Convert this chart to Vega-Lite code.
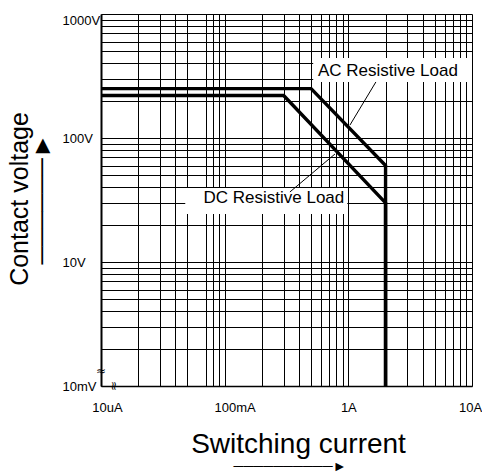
{
  "$schema": "https://vega.github.io/schema/vega-lite/v6.json",
  "width": 371,
  "height": 372,
  "autosize": {"type": "none"},
  "padding": {"left": 101, "top": 14, "right": 10, "bottom": 89},
  "background": "white",
  "config": {"view": {"stroke": null}},
  "title": {
    "text": "──────────►",
    "orient": "bottom", "anchor": "middle", "frame": "group",
    "font": "'Liberation Sans', Arial, sans-serif", "fontSize": 14, "fontWeight": "normal",
    "color": "black", "baseline": "top", "offset": 2, "dx": 3.5
  },
  "datasets": {
    "curves": [
      {"load": "AC", "o": 1, "current": 0.01, "voltage": 250},
      {"load": "AC", "o": 2, "current": 0.5, "voltage": 250},
      {"load": "AC", "o": 3, "current": 2, "voltage": 60},
      {"load": "AC", "o": 4, "current": 2, "voltage": 1},
      {"load": "DC", "o": 1, "current": 0.01, "voltage": 220},
      {"load": "DC", "o": 2, "current": 0.3, "voltage": 220},
      {"load": "DC", "o": 3, "current": 2, "voltage": 30},
      {"load": "DC", "o": 4, "current": 2, "voltage": 1}
    ],
    "boxes": [
      {"load": "AC", "current": 0.52, "current2": 10, "voltage": 283, "voltage2": 442},
      {"load": "DC", "current": 0.048, "current2": 0.98, "voltage": 24.4, "voltage2": 39.5}
    ],
    "labels": [
      {"text": "AC Resistive Load", "current": 2.09, "voltage": 350},
      {"text": "DC Resistive Load", "current": 0.25, "voltage": 32.8}
    ],
    "leaders": [
      {"load": "AC", "o": 1, "current": 1.67, "voltage": 283},
      {"load": "AC", "o": 2, "current": 1.03, "voltage": 127},
      {"load": "DC", "o": 1, "current": 0.337, "voltage": 36.7},
      {"load": "DC", "o": 2, "current": 0.78, "voltage": 74.3}
    ],
    "ybreak": [{"sym": "≈", "current": 0.01, "voltage": 1.33}],
    "xbreak": [{"sym": "≈", "current": 0.0128, "voltage": 1}]
  },
  "layer": [
    {
      "data": {"name": "curves"},
      "mark": {"type": "line", "color": "black", "strokeWidth": 3.4, "strokeJoin": "miter", "strokeCap": "butt"},
      "encoding": {
        "x": {
          "field": "current", "type": "quantitative",
          "scale": {"type": "log", "domain": [0.01, 10]},
          "axis": {
            "values": [0.01, 0.02, 0.03, 0.04, 0.05, 0.07, 0.08, 0.09, 0.1, 0.2, 0.3, 0.4, 0.5, 0.6, 0.7, 0.8, 0.9, 1, 2, 3, 4, 5, 6, 7, 8, 9, 10],
            "labelExpr": "datum.value == 0.01 ? '10uA' : datum.value == 0.1 ? '100mA' : datum.value == 1 ? '1A' : datum.value == 10 ? '10A' : ''",
            "grid": true, "gridColor": "black", "gridOpacity": 1, "gridWidth": 1,
            "ticks": false, "tickSize": 0,
            "domainColor": "black", "domainWidth": 1.5,
            "labelFont": "'Liberation Sans', Arial, sans-serif",
            "labelFontSize": 13, "labelColor": "black", "labelPadding": 15,
            "labelOverlap": false, "labelFlush": false, "labelBound": false,
            "labelOffset": {"condition": [
              {"test": "datum.value < 0.05", "value": 6},
              {"test": "datum.value < 0.5", "value": 10},
              {"test": "datum.value > 5", "value": -2}
            ], "value": 0},
            "title": "Switching current",
            "titleFont": "'Liberation Sans', Arial, sans-serif",
            "titleFontSize": 28, "titleFontWeight": "normal", "titleColor": "black",
            "titleX": 197, "titleY": 44, "titleAlign": "center", "titleBaseline": "top"
          }
        },
        "y": {
          "field": "voltage", "type": "quantitative",
          "scale": {"type": "log", "domain": [1, 1000]},
          "axis": {
            "values": [1, 2, 3, 4, 5, 6, 7, 8, 9, 10, 20, 30, 40, 50, 60, 70, 80, 90, 100, 200, 300, 400, 500, 600, 700, 800, 900, 1000],
            "labelExpr": "datum.value == 1 ? '10mV' : datum.value == 10 ? '10V' : datum.value == 100 ? '100V' : datum.value == 1000 ? '1000V' : ''",
            "grid": true, "gridColor": "black", "gridOpacity": 1, "gridWidth": 1,
            "ticks": false, "tickSize": 0,
            "domainColor": "black", "domainWidth": 2,
            "labelFont": "'Liberation Sans', Arial, sans-serif",
            "labelFontSize": 13, "labelColor": "black", "labelPadding": 39, "labelAlign": "left",
            "labelBaseline": {"condition": {"test": "datum.value >= 1000", "value": "top"}, "value": "middle"},
            "labelOverlap": false, "labelFlush": false, "labelBound": false,
            "title": ["Contact voltage", "──────►\u00a0\u00a0"],
            "titleFont": "'Liberation Sans', Arial, sans-serif",
            "titleFontSize": 25, "titleFontWeight": "normal", "titleColor": "black",
            "titleAngle": 270, "titleX": -81.5, "titleY": 184.5, "titleAlign": "center", "titleBaseline": "middle", "titleLineHeight": 22
          }
        },
        "detail": {"field": "load"},
        "order": {"field": "o"}
      }
    },
    {
      "data": {"name": "boxes"},
      "mark": {"type": "rect", "fill": "white"},
      "encoding": {
        "x": {"field": "current", "type": "quantitative"},
        "x2": {"field": "current2"},
        "y": {"field": "voltage", "type": "quantitative"},
        "y2": {"field": "voltage2"}
      }
    },
    {
      "data": {"name": "labels"},
      "mark": {"type": "text", "font": "'Liberation Sans', Arial, sans-serif", "fontSize": 17, "color": "black", "align": "center", "baseline": "middle"},
      "encoding": {
        "x": {"field": "current", "type": "quantitative"},
        "y": {"field": "voltage", "type": "quantitative"},
        "text": {"field": "text"}
      }
    },
    {
      "data": {"name": "leaders"},
      "mark": {"type": "line", "color": "black", "strokeWidth": 1},
      "encoding": {
        "x": {"field": "current", "type": "quantitative"},
        "y": {"field": "voltage", "type": "quantitative"},
        "detail": {"field": "load"},
        "order": {"field": "o"}
      }
    },
    {
      "data": {"name": "ybreak"},
      "mark": {"type": "text", "font": "'DejaVu Sans', sans-serif", "fontSize": 12, "color": "black", "align": "center", "baseline": "middle", "clip": false},
      "encoding": {
        "x": {"field": "current", "type": "quantitative"},
        "y": {"field": "voltage", "type": "quantitative"},
        "text": {"field": "sym"}
      }
    },
    {
      "data": {"name": "xbreak"},
      "mark": {"type": "text", "font": "'DejaVu Sans', sans-serif", "fontSize": 12, "color": "black", "align": "center", "baseline": "middle", "angle": 90, "clip": false},
      "encoding": {
        "x": {"field": "current", "type": "quantitative"},
        "y": {"field": "voltage", "type": "quantitative"},
        "text": {"field": "sym"}
      }
    }
  ]
}
